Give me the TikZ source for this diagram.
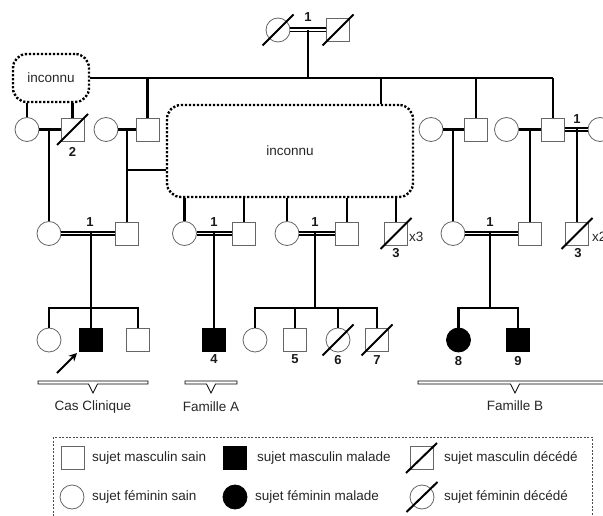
\documentclass[tikz,border=0pt]{standalone}
\usepackage{fontspec}
\setmainfont{Liberation Sans}
\usetikzlibrary{arrows.meta}
\begin{document}
\begin{tikzpicture}[x=1pt,y=-1pt,
  font=\fontsize{13.5}{15}\selectfont,
  male/.style={rectangle,draw=black!60,line width=0.8pt,minimum size=23pt,inner sep=0pt,fill=white},
  female/.style={circle,draw=black!60,line width=0.8pt,minimum size=24pt,inner sep=0pt,fill=white},
  sick/.style={fill=black,draw=black},
  rel/.style={line width=2.2pt},
  cons/.style={double=white,line width=1.6pt,double distance=1.8pt},
  deadline/.style={line width=2pt},
  num/.style={font=\fontsize{13}{15}\selectfont\bfseries,inner sep=0pt,text=black!90},
  txt/.style={inner sep=0pt,text=black!85},
  unknownbox/.style={draw,line width=2.4pt,dash pattern=on 2.2pt off 1.8pt,rounded corners=14pt,inner sep=0pt,text=black!85},
  bracestyle/.style={line width=0.8pt},
  legendbox/.style={draw=black!70,line width=0.7pt,dash pattern=on 2pt off 1.5pt}
]
\useasboundingbox (0,0) rectangle (603,516);

% ---------- generation 1
\node[female] (t1) at (278,30) {};
\node[male]   (t2) at (338,30) {};
\node[num] (lt) at (308,17) {1};

% ---------- unknown boxes
\node[unknownbox,minimum width=76pt,minimum height=48pt] (u1) at (51,78) {inconnu};
\node[unknownbox,minimum width=246pt,minimum height=92pt] (u2) at (290,151) {inconnu};

% ---------- generation 2
\node[female] (a1) at (27,129.5) {};
\node[male]   (a2) at (72.5,129.5) {};
\node[num] (la2) at (72.5,152) {2};
\node[female] (b1) at (106,129.5) {};
\node[male]   (b2) at (147.5,129.5) {};
\node[female] (c1) at (431,129.5) {};
\node[male]   (c2) at (476,129.5) {};
\node[female] (d1) at (506.5,129.5) {};
\node[male]   (d2) at (553,129.5) {};
\node[female] (e1) at (600,129.5) {};
\node[num] (le) at (577,119) {1};

% ---------- generation 3
\node[female] (p1) at (49,233.5) {};
\node[male]   (p2) at (127,233.5) {};
\node[num] (lp) at (90,222) {1};
\node[female] (q1) at (184.5,233.5) {};
\node[male]   (q2) at (244,233.5) {};
\node[num] (lq) at (214,222) {1};
\node[female] (r1) at (287,233.5) {};
\node[male]   (r2) at (347,233.5) {};
\node[num] (lr) at (315,222) {1};
\node[male]   (r3) at (396,233.5) {};
\node[num] (lr3) at (396,253) {3};
\node[txt,anchor=west] (xr3) at (409,237) {x3};
\node[female] (s1) at (453,233.5) {};
\node[male]   (s2) at (530,233.5) {};
\node[num] (ls) at (490,222) {1};
\node[male]   (s3) at (577,233.5) {};
\node[num] (ls3) at (578,253) {3};
\node[txt,anchor=west] (xs3) at (592,237) {x2};

% ---------- generation 4
\node[female] (k1) at (49,340) {};
\node[male,sick] (k2) at (91,340) {};
\node[male]   (k3) at (138,340) {};
\node[male,sick] (f4) at (214,340) {};
\node[num] (l4) at (214,359) {4};
\node[female] (m1) at (255,340) {};
\node[male]   (m2) at (295,340) {};
\node[num] (l5) at (295,359) {5};
\node[female] (m3) at (338,340) {};
\node[num] (l6) at (338,360) {6};
\node[male]   (m4) at (377,340) {};
\node[num] (l7) at (377,360) {7};
\node[female,sick] (b8) at (458.5,340) {};
\node[num] (l8) at (458.5,361) {8};
\node[male,sick] (b9) at (518,340) {};
\node[num] (l9) at (518,361) {9};

% ---------- coordinates
\coordinate (topR) at (553,78);
\coordinate (t12) at (308,30);
\coordinate (j2) at (381,78);
\coordinate (ma) at (49,129.5);
\coordinate (mb) at (127,129.5);
\coordinate (hb) at (127,170);
\coordinate (mc) at (453,129.5);
\coordinate (md) at (530,129.5);
\coordinate (me) at (577,129.5);
\coordinate (mp) at (91,233.5);
\coordinate (mq) at (214,233.5);
\coordinate (mr) at (315,233.5);
\coordinate (sr) at (315,308);
\coordinate (ms) at (490,233.5);
\coordinate (sb) at (490,308);
\coordinate (sk) at (91,308);
\coordinate (arrtail) at (57,373);
\coordinate (arrhead) at (77,353);

% ---------- connectors
\draw[cons] (t1) -- (t2);
\draw[rel] (t12) -- (t12 |- topR);
\draw[rel] (u1.east) -- (topR);
\draw[rel] (topR) -- (d2);
\draw[rel] (b2 |- topR) -- (b2);
\draw[rel] (c2 |- topR) -- (c2);
\draw[rel] (j2) -- (j2 |- u2.north);
\draw[rel] (a1 |- u1.south) -- (a1);
\draw[rel] (a2 |- u1.south) -- (a2);

\draw[rel] (a1) -- (a2);
\draw[rel] (ma) -- (p1);
\draw[rel] (b1) -- (b2);
\draw[rel] (mb) -- (p2);
\draw[rel] (hb) -- (hb -| u2.west);
\draw[rel] (c1) -- (c2);
\draw[rel] (mc) -- (s1);
\draw[rel] (d1) -- (d2);
\draw[rel] (md) -- (s2);
\draw[cons] (d2) -- (e1);
\draw[rel] (me) -- (s3);

\draw[rel] (q1 |- u2.south) -- (q1);
\draw[rel] (q2 |- u2.south) -- (q2);
\draw[rel] (r1 |- u2.south) -- (r1);
\draw[rel] (r2 |- u2.south) -- (r2);
\draw[rel] (r3 |- u2.south) -- (r3);

\draw[cons] (p1) -- (p2);
\draw[rel] (mp) -- (k2);
\draw[rel] (k1.north) -- (k1.north |- sk) -- (k3.north |- sk) -- (k3.north);
\draw[cons] (q1) -- (q2);
\draw[rel] (mq) -- (f4);
\draw[cons] (r1) -- (r2);
\draw[rel] (mr) -- (sr);
\draw[rel] (m1.north) -- (m1.north |- sr) -- (m4.north |- sr) -- (m4.north);
\draw[rel] (m2.north) -- (m2.north |- sr);
\draw[rel] (m3.north) -- (m3.north |- sr);
\draw[cons] (s1) -- (s2);
\draw[rel] (ms) -- (sb);
\draw[rel] (b8.north) -- (b8.north |- sb) -- (b9.north |- sb) -- (b9.north);

% ---------- deceased slashes
\foreach \n in {t1,t2,a2,r3,s3,m3,m4}{
  \draw[deadline] (\n.center) ++(-15.5,15.5) -- ++(31,-31);
}

% ---------- proband arrow
\draw[line width=2pt,-{Stealth[length=8pt,width=8pt]}] (arrtail) -- (arrhead);

% ---------- braces
\draw[bracestyle] (38,381) -- (148,381) -- (148,384) -- (97.5,384) -- (93,393) -- (88.5,384) -- (38,384) -- cycle;
\node[txt] (cc) at (93,407) {Cas Clinique};
\draw[bracestyle] (185,381) -- (237,381) -- (237,384) -- (215.5,384) -- (211,393) -- (206.5,384) -- (185,384) -- cycle;
\node[txt] (fa) at (211,407) {Famille A};
\draw[bracestyle] (418,381) -- (615,381) -- (615,384) -- (519.5,384) -- (515,393) -- (510.5,384) -- (418,384) -- cycle;
\node[txt] (fb) at (515,406) {Famille B};

% ---------- legend
\draw[legendbox] (53,437) rectangle (592,530);
\node[male] (lg1) at (73,458) {};
\node[txt,anchor=west] (lt1) at (92,458) {sujet masculin sain};
\node[male,sick] (lg2) at (235,458) {};
\node[txt,anchor=west] (lt2) at (257,458) {sujet masculin malade};
\node[male] (lg3) at (421.5,458) {};
\node[txt,anchor=west] (lt3) at (444,458) {sujet masculin décédé};
\node[female] (lg4) at (72,497) {};
\node[txt,anchor=west] (lt4) at (92,497) {sujet féminin sain};
\node[female,sick] (lg5) at (235,497) {};
\node[txt,anchor=west] (lt5) at (255,497) {sujet féminin malade};
\node[female] (lg6) at (422,497) {};
\node[txt,anchor=west] (lt6) at (444,497) {sujet féminin décédé};
\foreach \n in {lg3,lg6}{
  \draw[deadline] (\n.center) ++(-15.5,15) -- ++(31,-30);
}
\end{tikzpicture}
\end{document}
